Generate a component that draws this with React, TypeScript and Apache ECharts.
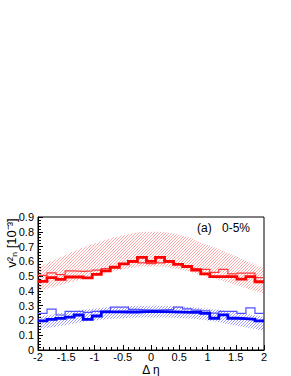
import React, { useEffect, useRef } from 'react';
import * as echarts from 'echarts';

// Histogram binning (25 bins of width 0.16 from -2 to 2)
const binStart = -2;
const binWidth = 0.16;

const redThick = [0.465, 0.49, 0.478, 0.494, 0.494, 0.488, 0.512, 0.535, 0.56, 0.583, 0.6, 0.627, 0.6, 0.627, 0.6, 0.58, 0.565, 0.54, 0.515, 0.496, 0.496, 0.496, 0.48, 0.496, 0.462];
const redThin = [0.505, 0.522, 0.51, 0.535, 0.532, 0.535, 0.54, 0.55, 0.565, 0.58, 0.595, 0.59, 0.585, 0.59, 0.595, 0.58, 0.565, 0.55, 0.545, 0.525, 0.546, 0.515, 0.52, 0.52, 0.49];
const blueThick = [0.197, 0.207, 0.214, 0.222, 0.237, 0.207, 0.23, 0.258, 0.258, 0.257, 0.257, 0.26, 0.262, 0.26, 0.258, 0.256, 0.255, 0.256, 0.248, 0.215, 0.238, 0.215, 0.212, 0.208, 0.197];
const blueThin = [0.248, 0.277, 0.237, 0.262, 0.262, 0.255, 0.262, 0.265, 0.29, 0.29, 0.275, 0.272, 0.27, 0.272, 0.275, 0.29, 0.278, 0.27, 0.265, 0.25, 0.262, 0.262, 0.248, 0.285, 0.248];

// Systematic bands
const bandX = [-2, -1.5, -1, -0.5, 0, 0.5, 1, 1.5, 2];
const redUpper = [0.56, 0.645, 0.72, 0.775, 0.8, 0.78, 0.71, 0.635, 0.55];
const redLower = [0.4, 0.45, 0.5, 0.545, 0.565, 0.545, 0.495, 0.44, 0.38];
const blueUpper = [0.225, 0.255, 0.28, 0.295, 0.3, 0.295, 0.28, 0.255, 0.225];
const blueLower = [0.14, 0.17, 0.2, 0.215, 0.22, 0.215, 0.2, 0.165, 0.13];

const FONT = '"Liberation Sans", Arial, Helvetica, sans-serif';

function histPoints(vals: number[]) {
  const pts: number[][] = [];
  vals.forEach((v, i) => {
    const lo = binStart + i * binWidth;
    const hi = binStart + (i + 1) * binWidth;
    pts.push([lo, v], [hi, v]);
  });
  return pts;
}

function hatch(r: number, g: number, b: number, a: number, size: number) {
  const c = document.createElement('canvas');
  c.width = size;
  c.height = size;
  const ctx = c.getContext('2d')!;
  const img = ctx.createImageData(size, size);
  for (let y = 0; y < size; y++) {
    for (let x = 0; x < size; x++) {
      if ((x + y) % size === size - 1) {
        const idx = (y * size + x) * 4;
        img.data[idx] = r;
        img.data[idx + 1] = g;
        img.data[idx + 2] = b;
        img.data[idx + 3] = Math.round(a * 255);
      }
    }
  }
  ctx.putImageData(img, 0, 0);
  return { image: c.toDataURL(), repeat: 'repeat', imageWidth: size, imageHeight: size } as any;
}

export default function App() {
  const ref = useRef<HTMLDivElement>(null);
  useEffect(() => {
    if (!ref.current) return;
    const chart = echarts.init(ref.current, null, { renderer: 'svg' });
    const redPat = hatch(255, 40, 40, 0.4, 3);
    const bluePat = hatch(40, 40, 255, 0.45, 3);
    // data stored as [y, x] so that stacking applies to the y value
    const band = (name: string, lower: number[], upper: number[], pat: any) => [
      {
        type: 'line', name: name + 'L', stack: name, smooth: true, showSymbol: false,
        data: bandX.map((x, i) => [lower[i], x]),
        encode: { x: 1, y: 0 },
        lineStyle: { opacity: 0 }, silent: true, z: 1,
      },
      {
        type: 'line', name: name + 'U', stack: name, smooth: true, showSymbol: false,
        data: bandX.map((x, i) => [upper[i] - lower[i], x]),
        encode: { x: 1, y: 0 },
        lineStyle: { opacity: 0 }, areaStyle: { color: pat, opacity: 1 }, silent: true, z: 1,
      },
    ];
    const hist = (vals: number[], color: string, width: number, z: number) => ({
      type: 'line', showSymbol: false, data: histPoints(vals),
      lineStyle: { color, width, join: 'miter' }, silent: true, z,
    });
    chart.setOption({
      animation: false,
      grid: { left: 38, right: 27, top: 217, bottom: 26, show: true, borderColor: '#000', borderWidth: 1, backgroundColor: 'transparent' },
      xAxis: {
        type: 'value', min: -2, max: 2, interval: 0.5,
        axisLine: { onZero: false, lineStyle: { color: '#000', width: 1 } },
        axisTick: { inside: true, length: 5, lineStyle: { color: '#000' } },
        minorTick: { show: true, splitNumber: 5, length: 3, lineStyle: { color: '#000' } },
        splitLine: { show: false },
        axisLabel: { color: '#000', fontSize: 11, lineHeight: 10, fontFamily: FONT, margin: 2, showMinLabel: true, showMaxLabel: true, formatter: (v: number) => String(Math.round(v * 10) / 10) },
      },
      yAxis: {
        type: 'value', min: 0, max: 0.9, interval: 0.1,
        axisLine: { show: true, onZero: false, lineStyle: { color: '#000', width: 1 } },
        axisTick: { show: true, inside: true, length: 5, lineStyle: { color: '#000' } },
        minorTick: { show: true, splitNumber: 5, length: 3, lineStyle: { color: '#000' } },
        splitLine: { show: false },
        axisLabel: { color: '#000', fontSize: 11, lineHeight: 10, fontFamily: FONT, margin: 4, formatter: (v: number) => (Math.abs(v) < 1e-9 ? '0' : v.toFixed(1)) },
      },
      series: [
        ...band('red', redLower, redUpper, redPat),
        ...band('blue', blueLower, blueUpper, bluePat),
        hist(redThin, '#ff3838', 1.2, 3),
        hist(blueThin, '#5050ff', 1.2, 3),
        hist(redThick, '#ff0000', 2.8, 4),
        hist(blueThick, '#0000ff', 2.8, 4),
      ],
      graphic: [
        { type: 'text', left: 197, top: 222, style: { text: '(a)', fontSize: 12, fontFamily: FONT, fill: '#000' } },
        { type: 'text', left: 222, top: 222, style: { text: '0-5%', fontSize: 12, fontFamily: FONT, fill: '#000' } },
        { type: 'text', x: 151, y: 370, style: { text: 'Δ η', fontSize: 12, lineHeight: 11, fontFamily: FONT, fill: '#000', align: 'center', verticalAlign: 'middle' } },
        { type: 'text', x: 11, y: 243, rotation: Math.PI / 2, style: { text: 'v\u00B2\u2099 [10\u207B\u00B3]', fontSize: 13, fontFamily: FONT, fill: '#000', align: 'center', verticalAlign: 'middle' } },
      ],
    });
    return () => chart.dispose();
  }, []);
  return <div ref={ref} style={{ position: 'fixed', left: 0, top: 0, width: 291, height: 376, background: '#fff' }} />;
}
